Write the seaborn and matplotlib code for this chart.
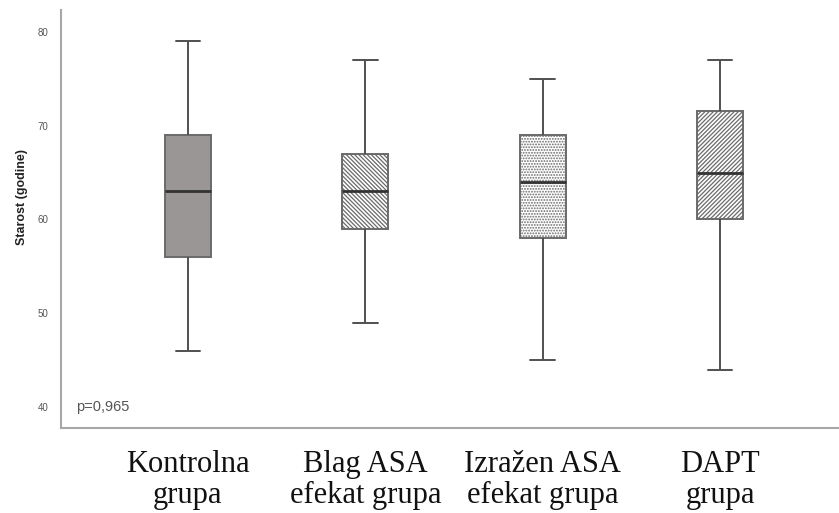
import numpy as np
import pandas as pd
import matplotlib
matplotlib.use("Agg")
import matplotlib.pyplot as plt
import matplotlib.colors as mcolors
import seaborn as sns

# Five-number summaries: whisker low, Q1, median, Q3, whisker high
categories = ["Kontrolna\ngrupa", "Blag ASA\nefekat grupa", "Izražen ASA\nefekat grupa", "DAPT\ngrupa"]
kontrolna = [46, 56, 63, 69, 79]
blag = [49, 59, 63, 67, 77]
izrazen = [45, 58, 64, 69, 75]
dapt = [44, 60, 65, 71.5, 77]
y_ticks = [40, 50, 60, 70, 80]
p_text = "p=0,965"

series = [kontrolna, blag, izrazen, dapt]
df = pd.DataFrame({
    "grupa": np.repeat(categories, [len(s) for s in series]),
    "starost": np.concatenate(series),
})

sns.set_theme(style="white")
plt.rcParams["font.family"] = ["Liberation Sans", "DejaVu Sans"]
plt.rcParams["hatch.linewidth"] = 0.9

fig = plt.figure(figsize=(8.39, 5.13), dpi=100)
ax = fig.add_axes([61 / 839, 85 / 513, 1 - 61 / 839, (428 - 10) / 513])

face_colors = ["#9a9696", "#ffffff", "#ffffff", "#ffffff"]
sns.boxplot(data=df, x="grupa", y="starost", hue="grupa", palette=face_colors,
            order=categories, hue_order=categories, whis=np.inf, width=0.26,
            linecolor="#505050", linewidth=1.4, legend=False, saturation=1,
            medianprops={"color": "#333333", "linewidth": 2.0}, ax=ax)

hatches = [None, "\\" * 8, "......", "/" * 8]
hatch_cols = [None, "#707070", "#b0b0b0", "#707070"]
for p, h, hc in zip(ax.patches, hatches, hatch_cols):
    if h:
        p.set_hatch(h)
        try:
            p._hatch_color = mcolors.to_rgba(hc)
        except Exception:
            pass
    p.set_edgecolor("#6a6a6a")

# cap widths ~ half the box width
for line in ax.lines:
    xd = np.asarray(line.get_xdata(), dtype=float)
    yd = np.asarray(line.get_ydata(), dtype=float)
    if len(xd) == 2 and yd[0] == yd[1] and abs(xd[1] - xd[0]) < 0.2:
        c = xd.mean()
        line.set_xdata([c - 0.07, c + 0.07])
        line.set_color("#505050")

ax.set_xlim(-0.716, 3.671)
ax.set_ylim(37.8, 82.3)
ax.set_yticks(y_ticks)
ax.set_xlabel("")
ax.set_ylabel("Starost (godine)", fontsize=9, fontweight="bold", color="#222222")
ax.yaxis.set_label_coords(-0.042, 0.553)
ax.tick_params(axis="y", length=0, labelsize=7, labelcolor="#555555", pad=9)
ax.tick_params(axis="x", length=0, pad=16)
ax.set_xticks(range(len(categories)))
ax.set_xticklabels(categories, fontsize=22, family=["Liberation Serif", "DejaVu Serif"],
                   color="#111111", linespacing=1.08)

for s in ["top", "right"]:
    ax.spines[s].set_visible(False)
for s in ["left", "bottom"]:
    ax.spines[s].set_color("#a8a8a8")
    ax.spines[s].set_linewidth(1.5)

ax.text(-0.63, 40, p_text, fontsize=10.5, color="#555555", va="center", ha="left")

fig.savefig("out.png", dpi=100)
